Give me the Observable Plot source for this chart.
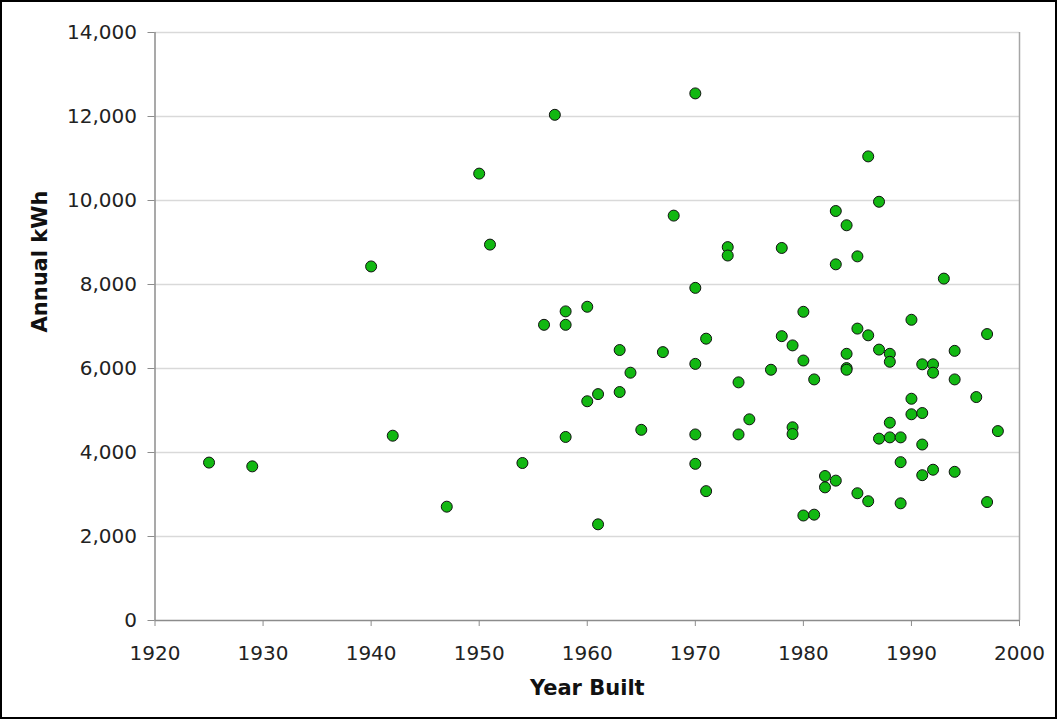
<!DOCTYPE html>
<html><head><meta charset="utf-8">
<script src="https://cdn.jsdelivr.net/npm/d3@7"></script>
<script src="https://cdn.jsdelivr.net/npm/@observablehq/plot@0.6"></script>
<style>body{margin:0;background:#fff} svg{display:block}</style>
</head><body><div id="chart"></div>
<script>
const years = [1925,1929,1940,1942,1947,1950,1951,1954,1956,1957,
  1958,1958,1958,1960,1960,1961,1961,1963,1963,1964,1965,1967,1968,
  1970,1970,1970,1970,1970,1971,1971,1973,1973,1974,1974,1975,1977,
  1978,1978,1979,1979,1979,1980,1980,1980,1981,1981,1982,1982,
  1983,1983,1983,1984,1984,1984,1984,1985,1985,1985,1986,1986,1986,
  1987,1987,1987,1988,1988,1988,1988,1989,1989,1989,1990,1990,1990,
  1991,1991,1991,1991,1992,1992,1992,1993,1994,1994,1994,1996,1997,1997,1998];
const kwh = [3760,3670,8430,4400,2710,10640,8950,3750,7040,12040,
  7360,7040,4370,7470,5220,5390,2290,6440,5440,5900,4540,6390,9640,
  12550,7920,6110,4430,3730,6710,3080,8890,8690,5670,4430,4790,5970,
  8870,6770,6550,4600,4440,7350,6190,2500,5740,2520,3440,3170,
  9750,8480,3330,9410,6350,6010,5970,8670,6950,3030,11050,6790,2840,
  9970,6450,4330,6350,6160,4710,4360,4360,3770,2790,7160,5280,4910,
  6100,4940,4190,3460,6100,5900,3590,8140,6420,5740,3540,5320,6820,2820,4510];
const xTicks = [1920,1930,1940,1950,1960,1970,1980,1990,2000];
const yTicks = [0,2000,4000,6000,8000,10000,12000,14000];
const xTitle = "Year Built";
const yTitle = "Annual kWh";

const data = years.map((y, i) => ({year: y, kwh: kwh[i]}));

const chart = Plot.plot({
  width: 1057, height: 719,
  marginLeft: 154.5, marginRight: 38, marginTop: 32, marginBottom: 99,
  style: {fontFamily: "'DejaVu Sans', Verdana, sans-serif", background: "#fff", color: "#222",
          outline: "2px solid #000", outlineOffset: "-2px", overflow: "visible"},
  x: {domain: [1920, 2000]},
  y: {domain: [0, 14000]},
  marks: [
    Plot.ruleY(yTicks.slice(1), {stroke: "#d9d9d9", strokeWidth: 1.5}),
    Plot.ruleX([2000], {stroke: "#a6a6a6", strokeWidth: 1.5}),
    Plot.ruleX([1920], {stroke: "#8c8c8c", strokeWidth: 1.5}),
    Plot.ruleY([0], {stroke: "#8c8c8c", strokeWidth: 1.5}),
    Plot.axisX({ticks: xTicks, tickSize: 6, tickPadding: 19, fontSize: 20, stroke: "#8c8c8c",
                fill: "#222", tickFormat: d => String(d), label: null}),
    Plot.axisY({ticks: yTicks, tickSize: 7, tickPadding: 11, fontSize: 20, stroke: "#8c8c8c",
                fill: "#222", tickFormat: d3.format(","), label: null}),
    Plot.dot(data, {x: "year", y: "kwh", r: 5.5, fill: "#12b812", stroke: "#111", strokeWidth: 1}),
    Plot.text([xTitle], {text: d => d, frameAnchor: "bottom", dy: 68, lineAnchor: "middle",
                         fontSize: 21, fontWeight: "bold", fill: "#111"}),
    Plot.text([yTitle], {text: d => d, frameAnchor: "left", dx: -114.5, dy: 6, rotate: -90,
                         lineAnchor: "middle", fontSize: 21, fontWeight: "bold", fill: "#111"})
  ]
});
document.getElementById("chart").append(chart);
</script>
</body></html>
